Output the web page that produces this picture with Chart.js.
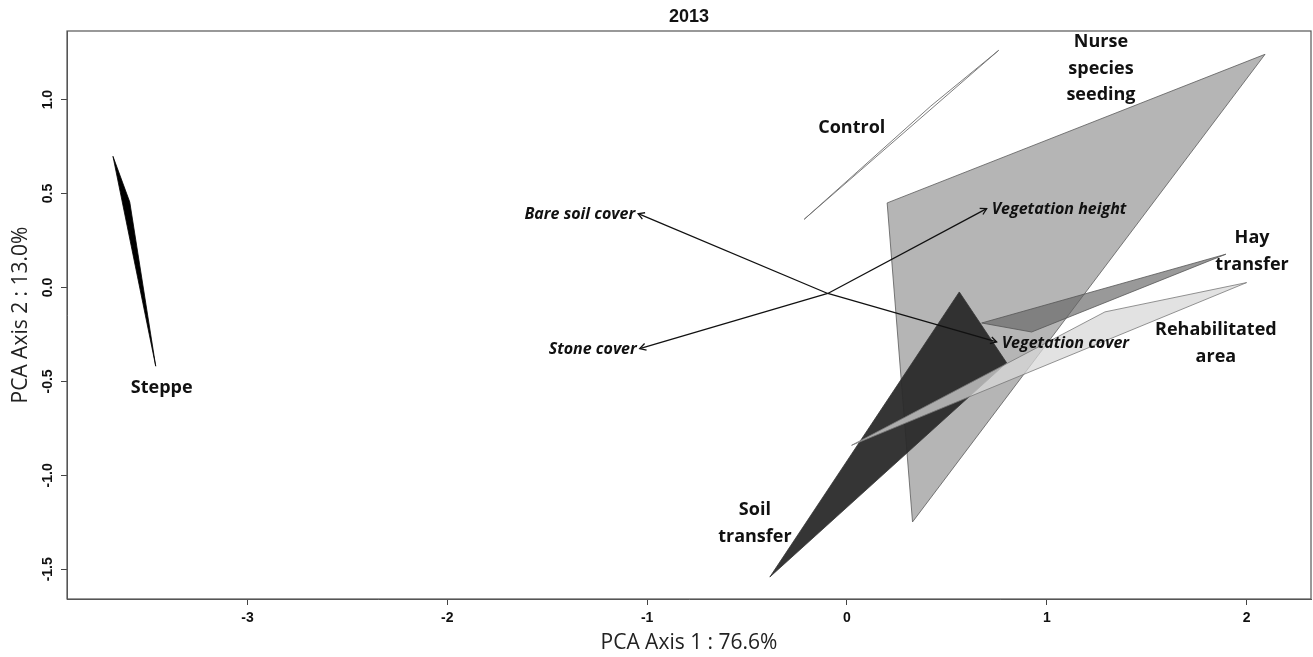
<!DOCTYPE html>
<html><head><meta charset="utf-8">
<script src="https://cdn.jsdelivr.net/npm/chart.js@4.4.0/dist/chart.umd.min.js"></script>
<style>html,body{margin:0;padding:0;background:#fff}#wrap{width:1313px;height:657px}</style>
</head><body><div id="wrap"><canvas id="c" width="1313" height="657"></canvas></div>
<script>
// ---------- data ----------
const chartTitle = "2013";
const xAxisTitle = "PCA Axis 1 : 76.6%";
const yAxisTitle = "PCA Axis 2 : 13.0%";
const xTickValues = [-3, -2, -1, 0, 1, 2];
const yTickValues = [-1.5, -1.0, -0.5, 0.0, 0.5, 1.0];

// treatment polygons (PCA scores, hull vertices)
const steppeX  = [-3.673, -3.589, -3.459];
const steppeY  = [ 0.698,  0.455, -0.419];
const controlX = [-0.214,  0.420,  0.759];
const controlY = [ 0.363,  0.966,  1.262];
const nurseX   = [ 0.201,  2.092,  0.328];
const nurseY   = [ 0.450,  1.241, -1.248];
const hayX     = [ 0.674,  1.896,  0.924];
const hayY     = [-0.189,  0.177, -0.237];
const soilX    = [ 0.562,  0.799, -0.386];
const soilY    = [-0.024, -0.401, -1.541];
const rehabX   = [ 0.023,  1.291,  2.000];
const rehabY   = [-0.840, -0.130,  0.026];

// group labels
const groupLabels = [["Steppe"], ["Control"], ["Nurse", "species", "seeding"], ["Hay", "transfer"], ["Rehabilitated", "area"], ["Soil", "transfer"]];
const groupLabelX = [-3.429, 0.024, 1.271, 2.027, 1.846, -0.461];
const groupLabelY = [-0.536, 0.847, 1.305, 0.262, -0.228, -1.186];

// environmental variable arrows
const varNames = ["Bare soil cover", "Stone cover", "Vegetation height", "Vegetation cover"];
const varX = [-1.045, -1.037, 0.699, 0.749];
const varY = [ 0.393, -0.325, 0.420, -0.290];
const arrowOrigin = [-0.096, -0.032];

// ---------- build ----------
function poly(xs, ys) {
  const pts = xs.map((v, i) => ({x: v, y: ys[i]}));
  pts.push({x: xs[0], y: ys[0]});
  return pts;
}
const polyStyle = (fill, border, order, bw) => ({
  showLine: true, fill: 'shape', backgroundColor: fill, borderColor: border,
  borderWidth: bw === undefined ? 0.8 : bw, pointRadius: 0, tension: 0, order: order
});

const datasets = [
  Object.assign({label: groupLabels[4].join(' '), data: poly(rehabX, rehabY)}, polyStyle('rgba(216,216,216,0.74)', '#777', 1)),
  Object.assign({label: groupLabels[5].join(' '), data: poly(soilX, soilY)}, polyStyle('rgba(42,42,42,0.95)', '#333', 2)),
  Object.assign({label: groupLabels[3].join(' '), data: poly(hayX, hayY)}, polyStyle('rgba(100,100,100,0.66)', '#555', 3)),
  Object.assign({label: groupLabels[2].join(' '), data: poly(nurseX, nurseY)}, polyStyle('rgba(150,150,150,0.7)', '#5a5a5a', 4)),
  Object.assign({label: groupLabels[1].join(' '), data: poly(controlX, controlY)}, polyStyle('#ffffff', '#6e6e6e', 5, 0.9)),
  Object.assign({label: groupLabels[0].join(' '), data: poly(steppeX, steppeY)}, polyStyle('#000000', '#000000', 6))
];
varNames.forEach((n, i) => {
  datasets.push({
    label: n, data: [{x: arrowOrigin[0], y: arrowOrigin[1]}, {x: varX[i], y: varY[i]}],
    showLine: true, fill: false, borderColor: '#111', borderWidth: 1.3, pointRadius: 0, order: 0
  });
});

const overlay = {
  id: 'overlay',
  afterDatasetsDraw(chart) {
    const {ctx, scales: {x, y}} = chart;
    ctx.save();
    // arrow heads
    ctx.strokeStyle = '#111'; ctx.lineWidth = 1.3;
    const ox = x.getPixelForValue(arrowOrigin[0]), oy = y.getPixelForValue(arrowOrigin[1]);
    varNames.forEach((n, i) => {
      const hx = x.getPixelForValue(varX[i]), hy = y.getPixelForValue(varY[i]);
      const ang = Math.atan2(hy - oy, hx - ox), L = 7, A = Math.PI / 6;
      ctx.beginPath();
      ctx.moveTo(hx - L * Math.cos(ang - A), hy - L * Math.sin(ang - A));
      ctx.lineTo(hx, hy);
      ctx.lineTo(hx - L * Math.cos(ang + A), hy - L * Math.sin(ang + A));
      ctx.stroke();
      // variable label
      ctx.fillStyle = '#111';
      ctx.font = 'italic bold 16px "Open Sans", "DejaVu Sans", sans-serif';
      ctx.textBaseline = 'middle';
      if (hx < ox) { ctx.textAlign = 'right'; ctx.fillText(n, hx - 3, hy + 1); }
      else { ctx.textAlign = 'left'; ctx.fillText(n, hx + 5, hy + 1); }
    });
    // group labels
    ctx.fillStyle = '#111';
    ctx.font = 'bold 18px "Open Sans", "DejaVu Sans", sans-serif';
    ctx.textAlign = 'center'; ctx.textBaseline = 'middle';
    groupLabels.forEach((lines, i) => {
      const px = x.getPixelForValue(groupLabelX[i]), py = y.getPixelForValue(groupLabelY[i]);
      lines.forEach((t, k) => ctx.fillText(t, px, py + k * 26.5));
    });
    ctx.restore();
  },
  afterDraw(chart) {
    const {ctx, chartArea: a, scales: {y}} = chart;
    ctx.save();
    ctx.strokeStyle = '#555'; ctx.lineWidth = 1.2;
    ctx.strokeRect(a.left, a.top, a.right - a.left, a.bottom - a.top);
    // rotated y tick labels (R style)
    ctx.fillStyle = '#111';
    ctx.font = 'bold 14px "Liberation Sans Narrow", "Liberation Sans", sans-serif';
    ctx.textAlign = 'center'; ctx.textBaseline = 'middle';
    y.ticks.forEach(t => {
      const py = y.getPixelForValue(t.value);
      ctx.save(); ctx.translate(48, py); ctx.rotate(-Math.PI / 2);
      ctx.fillText(t.value.toFixed(1), 0, 0); ctx.restore();
    });
    ctx.restore();
  }
};

new Chart(document.getElementById('c'), {
  type: 'scatter',
  data: {datasets},
  options: {
    responsive: false, animation: false, devicePixelRatio: 1,
    layout: {padding: {left: 0, right: 2, top: 0, bottom: 0}},
    plugins: {
      legend: {display: false}, tooltip: {enabled: false},
      title: {display: true, text: chartTitle, fullSize: false, color: '#111',
        font: {family: '"Liberation Sans", Arial, sans-serif', size: 18, weight: 'bold'},
        padding: {top: 6, bottom: 3.4}}
    },
    scales: {
      x: {
        type: 'linear', min: -3.903, max: 2.322,
        afterBuildTicks: s => { s.ticks = xTickValues.map(v => ({value: v})); },
        afterFit: s => { s.height = 58; },
        ticks: {includeBounds: false, color: '#111', padding: 5,
          font: {family: '"Liberation Sans Narrow", "Liberation Sans", sans-serif', size: 14, weight: 'bold'},
          maxRotation: 0, callback: v => String(v)},
        grid: {drawOnChartArea: false, drawTicks: true, tickLength: 6, color: '#444'},
        border: {display: true, color: '#555'},
        title: {display: true, text: xAxisTitle, color: '#222',
          font: {family: '"Open Sans", sans-serif', size: 21}, padding: {top: 0, bottom: 1}}
      },
      y: {
        type: 'linear', min: -1.658, max: 1.365,
        afterBuildTicks: s => { s.ticks = yTickValues.map(v => ({value: v})); },
        afterFit: s => { s.width = 67; },
        ticks: {display: false},
        grid: {drawOnChartArea: false, drawTicks: true, tickLength: 6, color: '#444'},
        border: {display: true, color: '#555'},
        title: {display: true, text: yAxisTitle, color: '#222',
          font: {family: '"Open Sans", sans-serif', size: 21}, padding: {top: 8, bottom: 0}}
      }
    }
  },
  plugins: [overlay]
});
</script></body></html>
